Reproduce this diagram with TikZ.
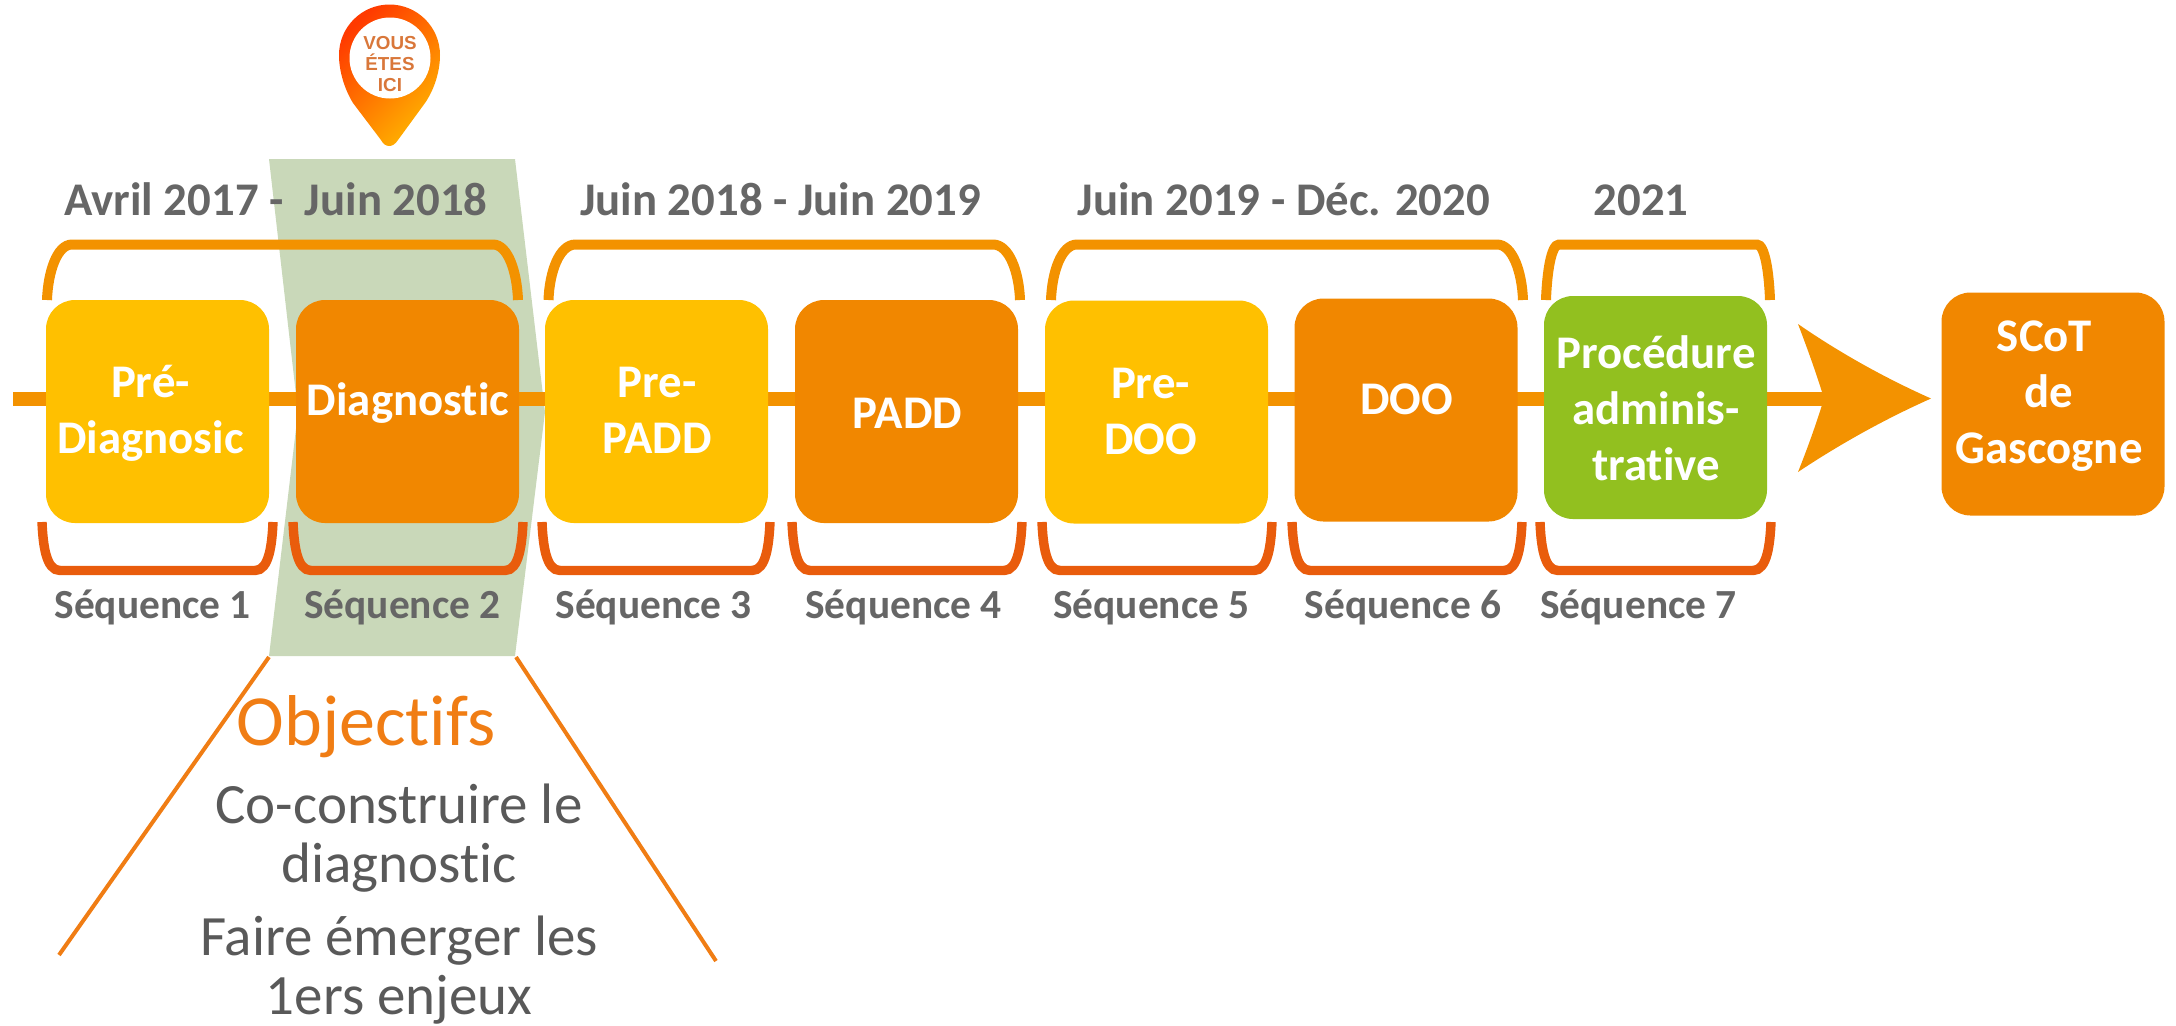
\documentclass[tikz,border=0pt]{standalone}
\usepackage{fontspec}
\setmainfont[Ligatures=NoCommon]{Carlito}
\newfontfamily\pinfont{Liberation Sans}
\definecolor{cyellow}{HTML}{FFC000}
\definecolor{corange}{HTML}{F18700}
\definecolor{cgreen}{HTML}{92C01F}
\definecolor{csage}{HTML}{C9D8B9}
\definecolor{cgray}{HTML}{666666}
\definecolor{cdark}{HTML}{595959}
\definecolor{cbrtop}{HTML}{F39200}
\definecolor{cbrbot}{HTML}{E95C0C}
\definecolor{cobj}{HTML}{F07D14}
\definecolor{cpintext}{HTML}{D9773A}
\definecolor{cpinred}{HTML}{FF3A00}
\definecolor{cpinyel}{HTML}{FFB400}
\tikzset{
  x=0.5pt,y=-0.5pt,
  boxnode/.style={rounded corners=14.5pt,minimum width=111.5pt,minimum height=111.5pt,inner sep=0pt,draw=none},
  boxlabel/.style={text=white,font=\fontsize{23.4}{28}\selectfont\bfseries,align=center,inner sep=0pt,anchor=base},
  datelabel/.style={text=cgray,font=\fontsize{23.4}{27}\selectfont\bfseries,inner sep=0pt,anchor=base},
  seqlabel/.style={text=cgray,font=\fontsize{20.7}{24}\selectfont\bfseries,inner sep=0pt,anchor=base},
  topbr/.style={draw=cbrtop,line width=5pt},
  botbr/.style={draw=cbrbot,line width=4.7pt},
  objtitle/.style={text=cobj,font=\fontsize{36}{40}\selectfont,inner sep=0pt},
  objbody/.style={text=cdark,font=\fontsize{28.5}{29.5}\selectfont,align=center,inner sep=0pt},
  fan/.style={draw=cobj,line width=2pt},
}
% #1 left centreline, #2 right centreline, #3 corner reach
\newcommand{\topbracket}[3]{\draw[topbr] (#1,300) .. controls ({#1+1},272) and ({#1+0.4*#3},244.5) .. ({#1+#3},244.5) -- ({#2-#3},244.5) .. controls ({#2-0.4*#3},244.5) and ({#2-1},272) .. (#2,300);}
\newcommand{\botbracket}[2]{\draw[botbr] (#1,522) .. controls ({#1+1},545) and ({#1+4},570.5) .. ({#1+18},570.5) -- ({#2-18},570.5) .. controls ({#2-4},570.5) and ({#2-1},545) .. (#2,522);}
\begin{document}
\begin{tikzpicture}
\useasboundingbox (0,0) rectangle (2176,1025);
% sage band
\fill[csage] (269,159) -- (515,159) -- (545,412) -- (515,656) -- (269,656) -- (298,412) -- cycle;
% main line and arrowhead
\coordinate (start) at (13,398.5);
\coordinate (notch) at (1824,398.5);
\coordinate (tip) at (1931,398.5);
\draw[line width=7pt,draw=cbrtop] (start) -- (notch);
\fill[cbrtop] (tip) .. controls (1885,378) and (1840,353) .. (1798,324) .. controls (1806,345) and (1816,372) .. (notch) .. controls (1816,425) and (1806,452) .. (1798,472) .. controls (1840,444) and (1885,419) .. (tip) -- cycle;
% brackets
\topbracket{47}{518}{25}
\topbracket{548.5}{1020}{27}
\topbracket{1051}{1523}{26}
\topbracket{1546}{1770}{13}
\botbracket{42}{273}
\botbracket{293}{523}
\botbracket{542}{770}
\botbracket{792}{1022}
\botbracket{1042}{1272}
\botbracket{1292}{1522}
\botbracket{1540}{1771}
% boxes
\node[boxnode,fill=cyellow] (b1) at (157.5,411.5) {};
\node[boxnode,fill=corange] (b2) at (407.5,411.5) {};
\node[boxnode,fill=cyellow] (b3) at (656.5,411.5) {};
\node[boxnode,fill=corange] (b4) at (906.5,411.5) {};
\node[boxnode,fill=cyellow] (b5) at (1156.5,412) {};
\node[boxnode,fill=corange] (b6) at (1406,410) {};
\node[boxnode,fill=cgreen] (b7) at (1655.5,407.5) {};
\node[boxnode,fill=corange] (b8) at (2053,404) {};
% box labels (anchor=base is the last line's baseline)
\node[boxlabel] (t1) at (150.5,453) {Pré-\\Diagnosic};
\node[boxlabel] (t2) at (408,415) {Diagnostic};
\node[boxlabel] (t3) at (657,453.5) {Pre-\\PADD};
\node[boxlabel] (t4) at (907.5,428) {PADD};
\node[boxlabel] (t5) at (1150.5,454) {Pre-\\DOO};
\node[boxlabel] (t6) at (1406.5,414) {DOO};
\node[boxlabel] (t7) at (1656,480) {Procédure\\adminis-\\trative};
\node[boxlabel] (t8) at (2049,463) {SCoT\hspace*{4.5pt}\\de\hspace*{4.5pt}\\Gascogne};
% dates
\node[datelabel] (d1) at (276,215) {Avril 2017 -\ \ Juin 2018};
\node[datelabel] (d2) at (780.5,215) {Juin 2018 - Juin 2019};
\node[datelabel] (d3) at (1284,215) {Juin 2019 - Déc. 2020};
\node[datelabel] (d4) at (1641,215) {2021};
% sequences
\node[seqlabel] (s1) at (152.7,618) {Séquence 1};
\node[seqlabel] (s2) at (402.5,618) {Séquence 2};
\node[seqlabel] (s3) at (653.7,618) {Séquence 3};
\node[seqlabel] (s4) at (903.6,618) {Séquence 4};
\node[seqlabel] (s5) at (1151.5,618) {Séquence 5};
\node[seqlabel] (s6) at (1403,618) {Séquence 6};
\node[seqlabel] (s7) at (1638.5,618) {Séquence 7};
% fan lines
\coordinate (fl1) at (269,657);
\coordinate (fl2) at (59,955);
\coordinate (fr1) at (516,657);
\coordinate (fr2) at (716,961);
\draw[fan] (fl1) -- (fl2);
\draw[fan] (fr1) -- (fr2);
% objectives
\node[objtitle] (o0) at (366,727) {Objectifs};
\node[objbody] (o1) at (399,838) {Co-construire le\\diagnostic};
\node[objbody] (o2) at (399,970) {Faire émerger les\\1ers enjeux};
% pin
\path[top color=cpinred,bottom color=cpinyel,shading angle=45]
  (381,140) .. controls (385,148) and (393,148) .. (398,140)
  -- (425,103) .. controls (434,90) and (440,72) .. (440,55)
  arc[start angle=0,end angle=-180,radius=50.5]
  .. controls (339,72) and (345,90) .. (353,103) -- cycle;
\node[circle,fill=white,minimum size=40.5pt,inner sep=0pt] (pinc) at (390,58) {};
\node[text=cpintext,font=\pinfont\fontsize{9.4}{10.5}\selectfont\bfseries,align=center,inner sep=0pt,anchor=base] (pint) at (390,91) {VOUS\\ÉTES\\ICI};
\end{tikzpicture}
\end{document}
